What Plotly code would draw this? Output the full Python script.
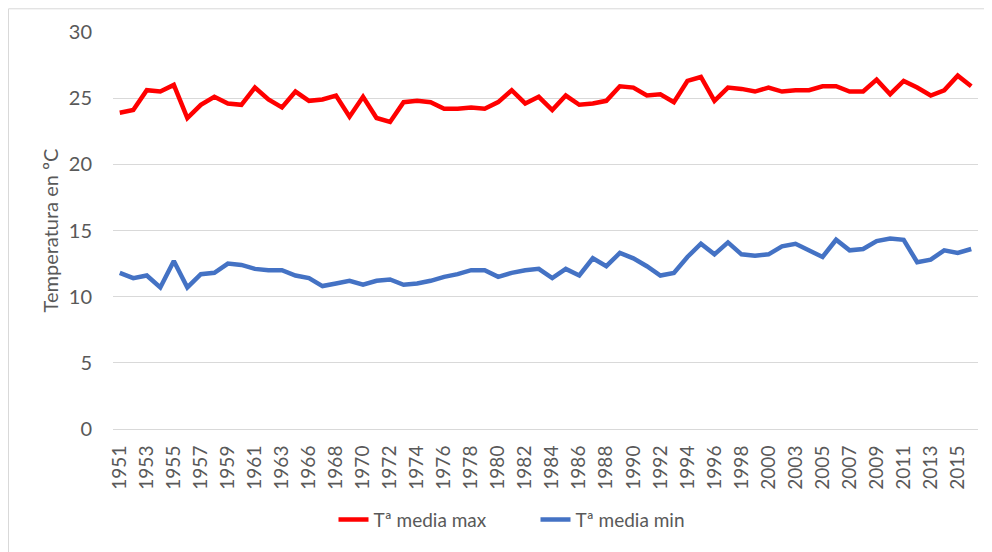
import plotly.graph_objects as go

years = [str(y) for y in list(range(1951, 1964)) + list(range(1965, 2001)) + list(range(2002, 2017))]

t_max = [23.9, 24.1, 25.6, 25.5, 26.0, 23.5, 24.5, 25.1, 24.6, 24.5,
         25.8, 24.9, 24.3, 25.5, 24.8, 24.9, 25.2, 23.6, 25.1, 23.5,
         23.2, 24.7, 24.8, 24.7, 24.2, 24.2, 24.3, 24.2, 24.7, 25.6,
         24.6, 25.1, 24.1, 25.2, 24.5, 24.6, 24.8, 25.9, 25.8, 25.2,
         25.3, 24.7, 26.3, 26.6, 24.8, 25.8, 25.7, 25.5, 25.8, 25.5,
         25.6, 25.6, 25.9, 25.9, 25.5, 25.5, 26.4, 25.3, 26.3, 25.8,
         25.2, 25.6, 26.7, 25.9]

t_min = [11.8, 11.4, 11.6, 10.7, 12.7, 10.7, 11.7, 11.8, 12.5, 12.4,
         12.1, 12.0, 12.0, 11.6, 11.4, 10.8, 11.0, 11.2, 10.9, 11.2,
         11.3, 10.9, 11.0, 11.2, 11.5, 11.7, 12.0, 12.0, 11.5, 11.8,
         12.0, 12.1, 11.4, 12.1, 11.6, 12.9, 12.3, 13.3, 12.9, 12.3,
         11.6, 11.8, 13.0, 14.0, 13.2, 14.1, 13.2, 13.1, 13.2, 13.8,
         14.0, 13.5, 13.0, 14.3, 13.5, 13.6, 14.2, 14.4, 14.3, 12.6,
         12.8, 13.5, 13.3, 13.6]

y_ticks = [0, 5, 10, 15, 20, 25, 30]

FONT = "Lato"
GRAY = "#595959"
GRID = "#D9D9D9"

fig = go.Figure()
fig.add_trace(go.Scatter(x=years, y=t_max, mode="lines", name="Tª media max",
                         line=dict(color="#FF0000", width=4.5)))
fig.add_trace(go.Scatter(x=years, y=t_min, mode="lines", name="Tª media min",
                         line=dict(color="#4472C4", width=4.5)))

# page has an 8px body margin; figure placed accordingly
W, H = 984, 544
L, T = 105, 23.7
PW, PH = 865, 396.8
R = W - L - PW
B = H - T - PH
BOT = T + PH  # plot bottom in div coords

fig.update_layout(
    width=W, height=H,
    margin=dict(l=L, r=R, t=T, b=B, autoexpand=False),
    paper_bgcolor="white", plot_bgcolor="white",
    font=dict(family=FONT, color=GRAY, size=19),
    showlegend=True,
    legend=dict(orientation="h", x=0.5 - 10 / PW, xanchor="center", y=(BOT - 511) / PH, yanchor="middle",
                font=dict(size=19, color=GRAY), entrywidth=157, entrywidthmode="pixels",
                traceorder="normal"),
    xaxis=dict(type="category", categoryorder="array", categoryarray=years,
               tickmode="array", tickvals=years[::2], ticktext=years[::2],
               tickangle=-90, showgrid=False, showline=True, linecolor=GRID,
               linewidth=1, ticks="", ticklabelstandoff=8, automargin=False,
               tickfont=dict(size=19, color=GRAY), range=[-0.5, len(years) - 0.5]),
    yaxis=dict(range=[0, 30], tickmode="array", tickvals=y_ticks,
               showgrid=True, gridcolor=GRID, gridwidth=1, zeroline=False,
               showline=False, ticks="", ticklabelstandoff=20, automargin=False,
               tickfont=dict(size=20, color=GRAY),
               title=dict(text="Temperatura en ºC", font=dict(size=20, color=GRAY), standoff=4)),
    shapes=[dict(type="rect", xref="paper", yref="paper",
                 x0=(0.5 - L) / PW, x1=(1010 - L) / PW,
                 y0=(BOT - 580) / PH, y1=(BOT - 0.5) / PH,
                 line=dict(color=GRID, width=1), fillcolor="rgba(0,0,0,0)", layer="below")],
)

fig.write_html("out.html")
